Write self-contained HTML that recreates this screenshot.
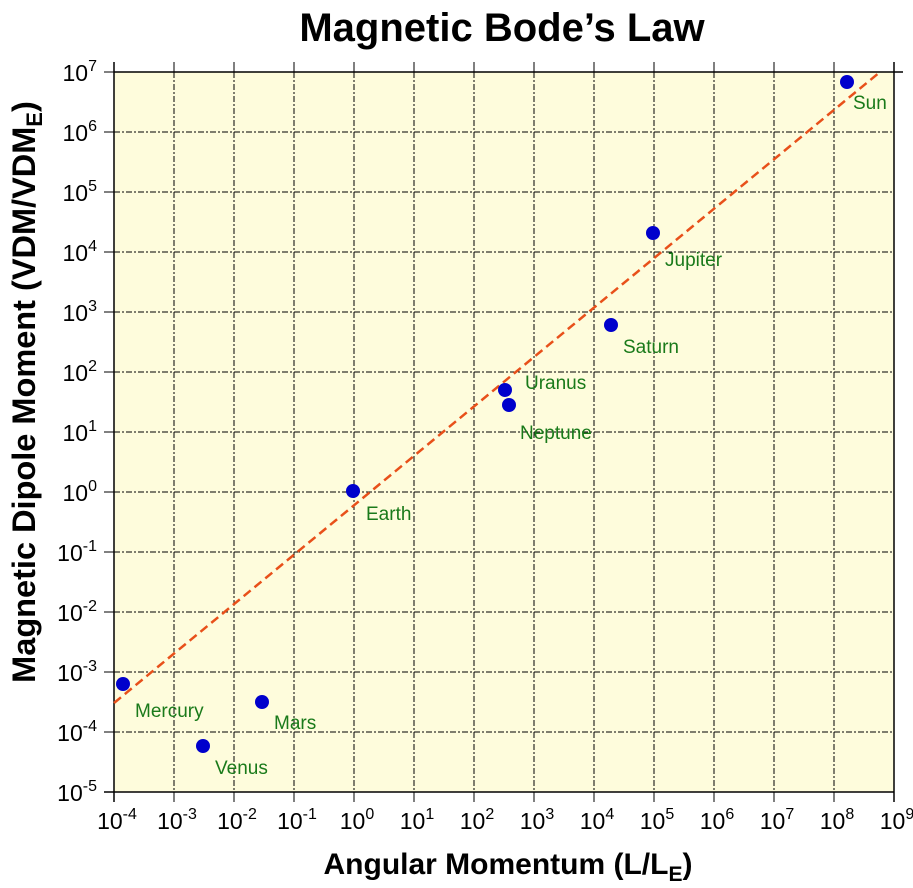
<!DOCTYPE html>
<html><head><meta charset="utf-8"><style>
html,body{margin:0;padding:0;background:#fff;}
svg{display:block;font-family:"Liberation Sans",Arial,sans-serif;}
</style></head><body>
<svg width="913" height="888" viewBox="0 0 913 888" xmlns="http://www.w3.org/2000/svg">
<text x="502" y="41" text-anchor="middle" font-size="40" font-weight="bold">Magnetic Bode’s Law</text>
<rect x="114" y="72" width="780" height="720" fill="#fefcdc"/>
<g stroke="#000" stroke-width="1" stroke-dasharray="6,2,2,2">
<line x1="174" y1="72" x2="174" y2="792"/><line x1="234" y1="72" x2="234" y2="792"/><line x1="294" y1="72" x2="294" y2="792"/><line x1="354" y1="72" x2="354" y2="792"/><line x1="414" y1="72" x2="414" y2="792"/><line x1="474" y1="72" x2="474" y2="792"/><line x1="534" y1="72" x2="534" y2="792"/><line x1="594" y1="72" x2="594" y2="792"/><line x1="654" y1="72" x2="654" y2="792"/><line x1="714" y1="72" x2="714" y2="792"/><line x1="774" y1="72" x2="774" y2="792"/><line x1="834" y1="72" x2="834" y2="792"/>
<line x1="114" y1="132" x2="894" y2="132"/><line x1="114" y1="192" x2="894" y2="192"/><line x1="114" y1="252" x2="894" y2="252"/><line x1="114" y1="312" x2="894" y2="312"/><line x1="114" y1="372" x2="894" y2="372"/><line x1="114" y1="432" x2="894" y2="432"/><line x1="114" y1="492" x2="894" y2="492"/><line x1="114" y1="552" x2="894" y2="552"/><line x1="114" y1="612" x2="894" y2="612"/><line x1="114" y1="672" x2="894" y2="672"/><line x1="114" y1="732" x2="894" y2="732"/>
</g>
<g stroke="#000" stroke-width="1.5">
<line x1="114" y1="72" x2="903" y2="72"/><line x1="114" y1="62" x2="114" y2="802"/><line x1="104" y1="792" x2="894" y2="792"/><line x1="894" y1="62" x2="894" y2="802"/>
</g>
<g stroke="#000" stroke-width="1">
<line x1="174" y1="62" x2="174" y2="72"/><line x1="234" y1="62" x2="234" y2="72"/><line x1="294" y1="62" x2="294" y2="72"/><line x1="354" y1="62" x2="354" y2="72"/><line x1="414" y1="62" x2="414" y2="72"/><line x1="474" y1="62" x2="474" y2="72"/><line x1="534" y1="62" x2="534" y2="72"/><line x1="594" y1="62" x2="594" y2="72"/><line x1="654" y1="62" x2="654" y2="72"/><line x1="714" y1="62" x2="714" y2="72"/><line x1="774" y1="62" x2="774" y2="72"/><line x1="834" y1="62" x2="834" y2="72"/>
<line x1="174" y1="792" x2="174" y2="802"/><line x1="234" y1="792" x2="234" y2="802"/><line x1="294" y1="792" x2="294" y2="802"/><line x1="354" y1="792" x2="354" y2="802"/><line x1="414" y1="792" x2="414" y2="802"/><line x1="474" y1="792" x2="474" y2="802"/><line x1="534" y1="792" x2="534" y2="802"/><line x1="594" y1="792" x2="594" y2="802"/><line x1="654" y1="792" x2="654" y2="802"/><line x1="714" y1="792" x2="714" y2="802"/><line x1="774" y1="792" x2="774" y2="802"/><line x1="834" y1="792" x2="834" y2="802"/>
<line x1="104" y1="72" x2="114" y2="72"/><line x1="104" y1="132" x2="114" y2="132"/><line x1="104" y1="192" x2="114" y2="192"/><line x1="104" y1="252" x2="114" y2="252"/><line x1="104" y1="312" x2="114" y2="312"/><line x1="104" y1="372" x2="114" y2="372"/><line x1="104" y1="432" x2="114" y2="432"/><line x1="104" y1="492" x2="114" y2="492"/><line x1="104" y1="552" x2="114" y2="552"/><line x1="104" y1="612" x2="114" y2="612"/><line x1="104" y1="672" x2="114" y2="672"/><line x1="104" y1="732" x2="114" y2="732"/>
</g>
<g font-size="23" text-anchor="end">
<text x="97" y="81">10<tspan dy="-10" font-size="16">7</tspan></text>
<text x="97" y="141">10<tspan dy="-10" font-size="16">6</tspan></text>
<text x="97" y="201">10<tspan dy="-10" font-size="16">5</tspan></text>
<text x="97" y="261">10<tspan dy="-10" font-size="16">4</tspan></text>
<text x="97" y="321">10<tspan dy="-10" font-size="16">3</tspan></text>
<text x="97" y="381">10<tspan dy="-10" font-size="16">2</tspan></text>
<text x="97" y="441">10<tspan dy="-10" font-size="16">1</tspan></text>
<text x="97" y="501">10<tspan dy="-10" font-size="16">0</tspan></text>
<text x="97" y="561">10<tspan dy="-10" font-size="16">-1</tspan></text>
<text x="97" y="621">10<tspan dy="-10" font-size="16">-2</tspan></text>
<text x="97" y="681">10<tspan dy="-10" font-size="16">-3</tspan></text>
<text x="97" y="741">10<tspan dy="-10" font-size="16">-4</tspan></text>
<text x="97" y="801">10<tspan dy="-10" font-size="16">-5</tspan></text>
</g>
<g font-size="23" text-anchor="middle">
<text x="117" y="829">10<tspan dy="-10" font-size="16">-4</tspan></text>
<text x="177" y="829">10<tspan dy="-10" font-size="16">-3</tspan></text>
<text x="237" y="829">10<tspan dy="-10" font-size="16">-2</tspan></text>
<text x="297" y="829">10<tspan dy="-10" font-size="16">-1</tspan></text>
<text x="357" y="829">10<tspan dy="-10" font-size="16">0</tspan></text>
<text x="417" y="829">10<tspan dy="-10" font-size="16">1</tspan></text>
<text x="477" y="829">10<tspan dy="-10" font-size="16">2</tspan></text>
<text x="537" y="829">10<tspan dy="-10" font-size="16">3</tspan></text>
<text x="597" y="829">10<tspan dy="-10" font-size="16">4</tspan></text>
<text x="657" y="829">10<tspan dy="-10" font-size="16">5</tspan></text>
<text x="717" y="829">10<tspan dy="-10" font-size="16">6</tspan></text>
<text x="777" y="829">10<tspan dy="-10" font-size="16">7</tspan></text>
<text x="837" y="829">10<tspan dy="-10" font-size="16">8</tspan></text>
<text x="897" y="829">10<tspan dy="-10" font-size="16">9</tspan></text>
</g>
<line x1="114" y1="703" x2="880" y2="72" stroke="#e8501a" stroke-width="2.5" stroke-dasharray="9,5"/>
<g fill="#0000cc">
<circle cx="847" cy="82" r="7"/><circle cx="653" cy="233" r="7"/><circle cx="611" cy="325" r="7"/><circle cx="505" cy="390" r="7"/><circle cx="509" cy="405" r="7"/><circle cx="353" cy="491" r="7"/><circle cx="123" cy="684" r="7"/><circle cx="262" cy="702" r="7"/><circle cx="203" cy="746" r="7"/>
</g>
<g fill="#1a7a1a" font-size="19">
<text x="853" y="109">Sun</text>
<text x="665" y="266">Jupiter</text>
<text x="623" y="353">Saturn</text>
<text x="525" y="389">Uranus</text>
<text x="520" y="439">Neptune</text>
<text x="366" y="520">Earth</text>
<text x="135" y="717">Mercury</text>
<text x="274" y="729">Mars</text>
<text x="215" y="774">Venus</text>
</g>
<text x="508" y="874" text-anchor="middle" font-size="30" font-weight="bold">Angular Momentum (L/L<tspan dy="7" font-size="21">E</tspan><tspan dy="-7">)</tspan></text>
<text transform="translate(35,392) rotate(-90)" text-anchor="middle" font-size="32.5" font-weight="bold">Magnetic Dipole Moment (VDM/VDM<tspan dy="7" font-size="22">E</tspan><tspan dy="-7">)</tspan></text>
</svg>
</body></html>
